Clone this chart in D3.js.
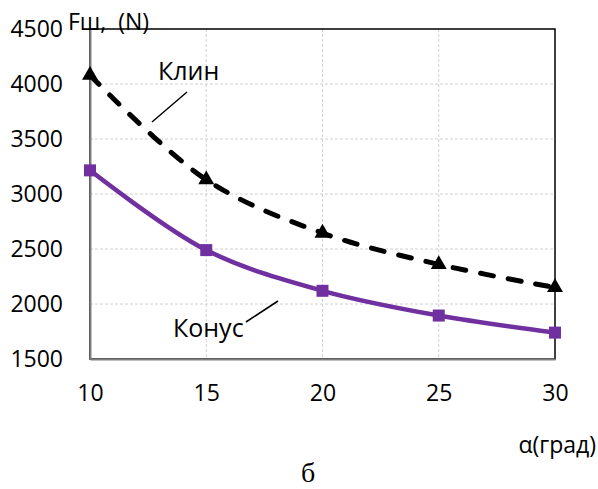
<!DOCTYPE html>
<html>
<head>
<meta charset="utf-8">
<script src="https://cdn.jsdelivr.net/npm/d3@7"></script>
<style>
  body { margin: 0; background: #fff; }
  text { font-family: "Open Sans", sans-serif; fill: #000; }
</style>
</head>
<body>
<div id="chart"></div>
<script>
// angles (grad) and forces (N)
const angles = [10, 15, 20, 25, 30];
const klin = [4080, 3130, 2645, 2360, 2150];
const konus = [3215, 2490, 2120, 1895, 1740];
const yTicks = [1500, 2000, 2500, 3000, 3500, 4000, 4500];

const margin = { top: 29, right: 43, bottom: 130, left: 90 };
const W = 598, H = 489;
const width = W - margin.left - margin.right;
const height = H - margin.top - margin.bottom;

const svg = d3.select("#chart").append("svg")
  .attr("width", W).attr("height", H);
const g = svg.append("g").attr("transform", `translate(${margin.left},${margin.top})`);

const x = d3.scaleLinear().domain([10, 30]).range([0, width]);
const y = d3.scaleLinear().domain([1500, 4500]).range([height, 0]);

// grid
g.append("g").selectAll("line").data(yTicks.slice(1, -1)).join("line")
  .attr("x1", 0).attr("x2", width)
  .attr("y1", d => y(d)).attr("y2", d => y(d))
  .attr("stroke", "#d0d0d0").attr("stroke-dasharray", "3,2");
g.append("g").selectAll("line").data(angles.slice(1, -1)).join("line")
  .attr("x1", d => x(d)).attr("x2", d => x(d))
  .attr("y1", 0).attr("y2", height)
  .attr("stroke", "#d0d0d0").attr("stroke-dasharray", "3,2");

// plot frame
g.append("rect").attr("width", width).attr("height", height)
  .attr("fill", "none").attr("stroke", "#000").attr("stroke-width", 1.5);

// axes
const yAxis = g.append("g").call(d3.axisLeft(y).tickValues(yTicks).tickFormat(d3.format("d"))
  .tickSize(0).tickPadding(27));
const xAxis = g.append("g").attr("transform", `translate(0,${height})`)
  .call(d3.axisBottom(x).tickValues(angles).tickSize(0).tickPadding(26));
[yAxis, xAxis].forEach(a => {
  a.select(".domain").attr("stroke", "#808080").attr("stroke-width", 2);
  a.selectAll("text").style("font-family", "Open Sans").style("font-size", "23px").attr("fill", "#000");
});

const line = d3.line().x((d, i) => x(angles[i])).y(d => y(d)).curve(d3.curveCatmullRom.alpha(0.5));

// Клин
g.append("path").datum(klin).attr("d", line)
  .attr("fill", "none").attr("stroke", "#000").attr("stroke-width", 5)
  .attr("stroke-linecap", "round").attr("stroke-dasharray", "13,15");
const tri = d3.symbol().type(d3.symbolTriangle).size(110);
g.selectAll(".tri").data(klin).join("path")
  .attr("class", "tri").attr("d", tri)
  .attr("transform", (d, i) => `translate(${x(angles[i])},${y(d)})`)
  .attr("fill", "#000");

// Конус
g.append("path").datum(konus).attr("d", line)
  .attr("fill", "none").attr("stroke", "#7030A0").attr("stroke-width", 4.5);
g.selectAll(".sq").data(konus).join("rect")
  .attr("class", "sq")
  .attr("x", (d, i) => x(angles[i]) - 6).attr("y", d => y(d) - 6)
  .attr("width", 12).attr("height", 12).attr("fill", "#7030A0");

// labels
svg.append("text").attr("x", 68).attr("y", 30).style("font-size", "23px").text("Fш,\u00A0 (N)");
svg.append("text").attr("x", 158).attr("y", 80).style("font-size", "25px").text("Клин");
svg.append("line").attr("x1", 187).attr("y1", 92).attr("x2", 152).attr("y2", 122)
  .attr("stroke", "#000").attr("stroke-width", 1.5);
svg.append("text").attr("x", 173).attr("y", 337).style("font-size", "25px").text("Конус");
svg.append("line").attr("x1", 246).attr("y1", 322).attr("x2", 278).attr("y2", 301)
  .attr("stroke", "#000").attr("stroke-width", 1.5);
svg.append("text").attr("x", 596).attr("y", 453).attr("text-anchor", "end")
  .style("font-size", "23px").text("α(град)");
svg.append("text").attr("x", 308).attr("y", 482).attr("text-anchor", "middle")
  .style("font-family", "Liberation Serif").style("font-size", "28px").text("б");
</script>
</body>
</html>
